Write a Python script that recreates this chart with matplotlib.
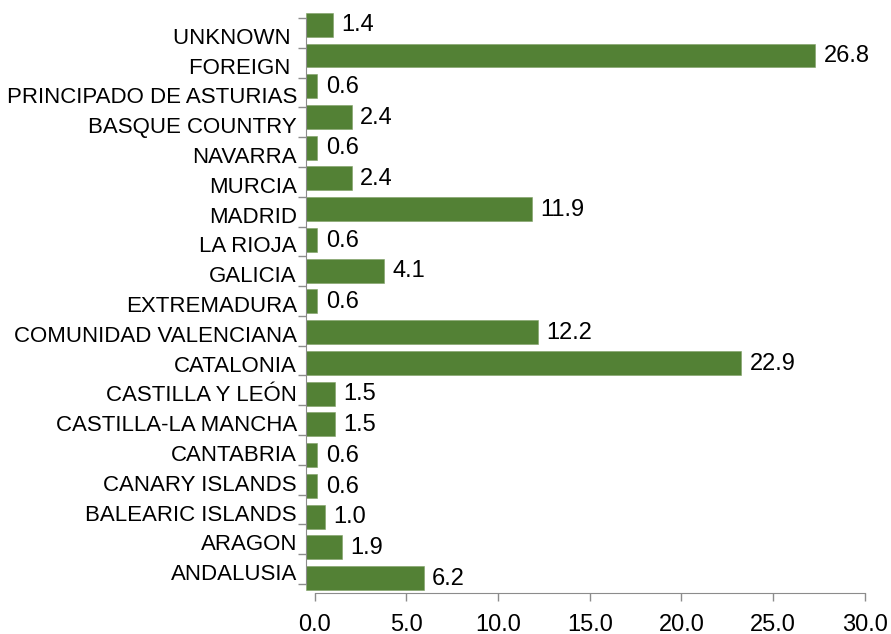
import matplotlib.pyplot as plt
import matplotlib.transforms as mtransforms
import numpy as np

# regions, bottom to top
regions = ["ANDALUSIA", "ARAGON", "BALEARIC ISLANDS", "CANARY ISLANDS", "CANTABRIA",
           "CASTILLA-LA MANCHA", "CASTILLA Y LEÓN", "CATALONIA", "COMUNIDAD VALENCIANA",
           "EXTREMADURA", "GALICIA", "LA RIOJA", "MADRID", "MURCIA", "NAVARRA",
           "BASQUE COUNTRY", "PRINCIPADO DE ASTURIAS", "FOREIGN ", "UNKNOWN "]
share = [6.2, 1.9, 1.0, 0.6, 0.6, 1.5, 1.5, 22.9, 12.2, 0.6,
         4.1, 0.6, 11.9, 2.4, 0.6, 2.4, 0.6, 26.8, 1.4]
xticks = [0, 5, 10, 15, 20, 25, 30]

plt.rcParams['font.family'] = ['Liberation Sans', 'DejaVu Sans']
FS = 16      # category labels
FS_NUM = 17  # numbers
GREY = '#8c8c8c'
W, H = 891, 634


def box(l, t, r, b):
    return [l / W, 1 - b / H, (r - l) / W, (b - t) / H]


fig = plt.figure(figsize=(W / 100, H / 100), dpi=100)
n = len(regions)
y = np.arange(n)

# bars
ax = fig.add_axes(box(306, 9.4, 306 + 30 * 19.0, 593.4))
ax.barh(y, share, height=0.78, color='#538135', edgecolor='#7fa065', linewidth=0.4)
ax.set_xlim(0, 30)
ax.set_ylim(-0.5, n - 0.5)
ax.axis('off')
for i, v in enumerate(share):
    ax.annotate(f"{v:.1f}", (v, i), xytext=(6, -0.5), textcoords='offset points',
                va='center', ha='left', fontsize=FS_NUM)

# category axis
ay = fig.add_axes(box(306, 18, 400, 584))
ay.patch.set_alpha(0)
ay.set_ylim(-0.5, n - 0.5)
ay.set_yticks(y, regions, fontsize=FS)
ay.set_yticks(np.arange(n + 1) - 0.5, minor=True)
ay.tick_params(axis='y', which='major', length=0, pad=6.5)
ay.tick_params(axis='y', which='minor', length=5.8, color=GREY, width=1)
ay.set_xticks([])
for s in ['top', 'right', 'bottom']:
    ay.spines[s].set_visible(False)
ay.spines['left'].set_color(GREY)
shift = mtransforms.ScaledTranslation(0, -3 / 100, fig.dpi_scale_trans)
for lab in ay.get_yticklabels():
    lab.set_transform(lab.get_transform() + shift)

# value axis
axx = fig.add_axes(box(314.7, 500, 864.7, 593))
axx.patch.set_alpha(0)
axx.set_xlim(0, 30)
axx.set_xticks(xticks, [f"{t:.1f}" for t in xticks], fontsize=FS_NUM)
axx.tick_params(axis='x', length=5.8, color=GREY, width=1, pad=9)
axx.set_yticks([])
for s in ['top', 'right', 'left']:
    axx.spines[s].set_visible(False)
axx.spines['bottom'].set_color(GREY)

fig.savefig('out.png', dpi=100)
